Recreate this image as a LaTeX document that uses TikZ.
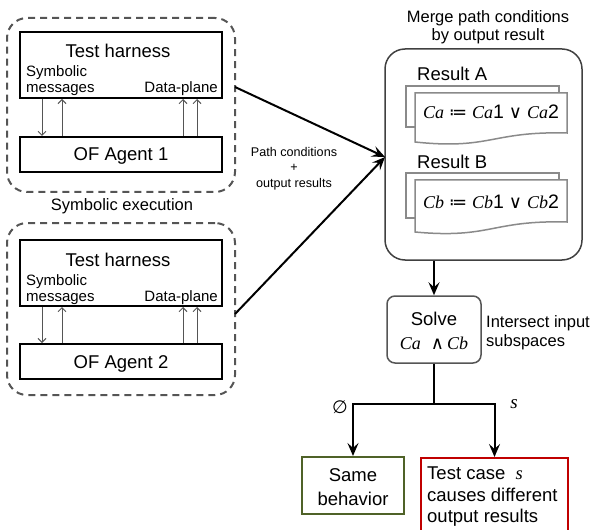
\documentclass[tikz,border=0pt]{standalone}
\usepackage{fontspec}
\setmainfont{Liberation Sans}
\newfontfamily\tms{Liberation Serif}
\newfontfamily\djv{DejaVu Sans}
\usetikzlibrary{arrows.meta}
\newcommand{\vv}[1]{{\tms\itshape #1}}
\definecolor{dashgray}{HTML}{555555}
\definecolor{boxgray}{HTML}{404040}
\definecolor{docgray}{HTML}{8A8A8A}
\definecolor{okgreen}{HTML}{4F6228}
\definecolor{badred}{HTML}{C00000}
\begin{document}
\begin{tikzpicture}[x=1pt,y=-1pt,
  dashbox/.style={draw=dashgray,line width=2pt,dash pattern=on 7pt off 5pt,rounded corners=20pt,inner sep=0pt},
  blkbox/.style={draw=black,line width=2pt,fill=white,inner sep=0pt},
  thinar/.style={draw=dashgray,line width=1pt,-{Straight Barb[length=4pt,width=8pt]}},
  bigar/.style={draw=black,line width=2pt,-{Stealth[length=13pt,width=11pt,inset=5pt]}},
  bigln/.style={draw=black,line width=2pt},
  docln/.style={draw=docgray,line width=1.5pt,fill=white},
  lbig/.style={font=\fontsize{18.5}{20}\selectfont,inner sep=0pt,anchor=base},
  lmed/.style={font=\fontsize{16.5}{18}\selectfont,inner sep=0pt,anchor=base},
  lsml/.style={font=\fontsize{15}{16}\selectfont,inner sep=0pt},
  ltiny/.style={font=\fontsize{12.6}{14}\selectfont,inner sep=0pt,anchor=base},
  formula/.style={font=\fontsize{18}{20}\selectfont,inner sep=0pt,anchor=base},
]
\useasboundingbox (0,0) rectangle (593,529);
\clip (0,0) rectangle (593,529);

% ---------- top symbolic execution group ----------
\node[dashbox,minimum width=228pt,minimum height=174pt] (dash1) at (121,105) {};
\node[blkbox,minimum width=202pt,minimum height=66pt] (th1) at (121,65) {};
\node[blkbox,minimum width=202pt,minimum height=35pt] (ag1) at (121,154.5) {};
\node[lbig] (th1t) at (118,58) {Test harness};
\node[lsml,anchor=base west] (th1s) at (26,77) {Symbolic};
\node[lsml,anchor=base west] (th1m) at (26,93) {messages};
\node[lsml,anchor=base east] (th1d) at (218,93) {Data-plane};
\node[lbig] (ag1t) at (121,161) {OF Agent 1};
\coordinate (xa) at (42,0);
\coordinate (xb) at (62,0);
\coordinate (xc) at (183,0);
\coordinate (xd) at (197,0);
\draw[thinar] (th1.south -| xa) -- (ag1.north -| xa);
\draw[thinar] (ag1.north -| xb) -- (th1.south -| xb);
\draw[thinar] (ag1.north -| xc) -- (th1.south -| xc);
\draw[thinar] (ag1.north -| xd) -- (th1.south -| xd);

\node[lmed] (symexec) at (122,210) {Symbolic execution};

% ---------- bottom symbolic execution group ----------
\node[dashbox,minimum width=228pt,minimum height=172pt] (dash2) at (121,309) {};
\node[blkbox,minimum width=202pt,minimum height=66pt] (th2) at (121,273) {};
\node[blkbox,minimum width=202pt,minimum height=35pt] (ag2) at (121,361.5) {};
\node[lbig] (th2t) at (118,266) {Test harness};
\node[lsml,anchor=base west] (th2s) at (26,285) {Symbolic};
\node[lsml,anchor=base west] (th2m) at (26,301) {messages};
\node[lsml,anchor=base east] (th2d) at (218,301) {Data-plane};
\node[lbig] (ag2t) at (121,368) {OF Agent 2};
\draw[thinar] (th2.south -| xa) -- (ag2.north -| xa);
\draw[thinar] (ag2.north -| xb) -- (th2.south -| xb);
\draw[thinar] (ag2.north -| xc) -- (th2.south -| xc);
\draw[thinar] (ag2.north -| xd) -- (th2.south -| xd);

% ---------- merge box ----------
\node[draw=boxgray,line width=1.5pt,rounded corners=20pt,minimum width=197pt,minimum height=211pt,inner sep=0pt] (merge) at (483.5,154.5) {};
\node[lmed] (mt1) at (488,23) {Merge path conditions};
\node[lmed] (mt2) at (488,41) {by output result};

\node[lbig,anchor=base west] (resA) at (417,81) {Result A};
\draw[docln] (406,86) rectangle (559,127);
\draw[docln] (415,93) -- (567,93) -- (567,133)
  .. controls (491,131) and (491,150) .. (415,142) -- cycle;
\node[formula] (fa) at (491,119)
  {\vv{Ca} {\djv ≔} \vv{Ca}{\fontsize{19.5}{20}\selectfont 1} {\djv ∨} \vv{Ca}{\fontsize{19.5}{20}\selectfont 2}};

\node[lbig,anchor=base west] (resB) at (417,169) {Result B};
\draw[docln] (406,173) rectangle (559,218);
\draw[docln] (415,180) -- (567,180) -- (567,222)
  .. controls (491,220) and (491,239) .. (415,232) -- cycle;
\node[formula] (fb) at (491,208)
  {\vv{Cb} {\djv ≔} \vv{Cb}{\fontsize{19.5}{20}\selectfont 1} {\djv ∨} \vv{Cb}{\fontsize{19.5}{20}\selectfont 2}};

% ---------- arrows into merge ----------
\coordinate (s1) at (235,87);
\coordinate (s2) at (235,314);
\coordinate (mw) at (385,157);
\draw[bigar] (s1) -- (mw);
\draw[bigar] (s2) -- (mw);
\node[ltiny] (pc1) at (294,157) {Path conditions};
\node[ltiny] (pc2) at (294,172) {+};
\node[ltiny] (pc3) at (294,188) {output results};

% ---------- solve ----------
\node[draw=dashgray,line width=1.5pt,rounded corners=8pt,minimum width=94pt,minimum height=67pt,inner sep=0pt,fill=white] (solve) at (434,329.5) {};
\node[lbig] (solvet) at (434,325) {Solve};
\node[formula] (solvef) at (434,349)
  {\vv{Ca}\ \ {\djv ∧}\,\vv{Cb}};
\draw[bigar] (merge.south -| solve.north) -- (solve.north);
\node[lmed,anchor=base west] (is1) at (486,327) {Intersect input};
\node[lmed,anchor=base west] (is2) at (486,346) {subspaces};

% ---------- outcomes ----------
\node[draw=okgreen,line width=2pt,minimum width=102pt,minimum height=57pt,inner sep=0pt] (same) at (353,485.5) {};
\node[lbig] (same1) at (353,481) {Same};
\node[lbig] (same2) at (353,505) {behavior};
\node[draw=badred,line width=2pt,minimum width=147pt,minimum height=100pt,inner sep=0pt,anchor=north] (diff) at (494.5,457) {};
\node[lbig,anchor=base west] (diff1) at (427,479) {Test case \ \vv{s}};
\node[lbig,anchor=base west] (diff2) at (427,501) {causes different};
\node[lbig,anchor=base west] (diff3) at (427,522) {output results};

\coordinate (jn) at (434,404);
\draw[bigln] (solve.south) -- (jn);
\draw[bigar] (jn) -| (same.north);
\draw[bigar] (jn) -| (diff.north);
\node[font=\fontsize{18}{20}\selectfont,inner sep=0pt] (emp) at (340,407) {\djv ∅};
\node[font=\fontsize{19}{20}\selectfont,inner sep=0pt] (slab) at (514,404) {\vv{s}};
\end{tikzpicture}
\end{document}
